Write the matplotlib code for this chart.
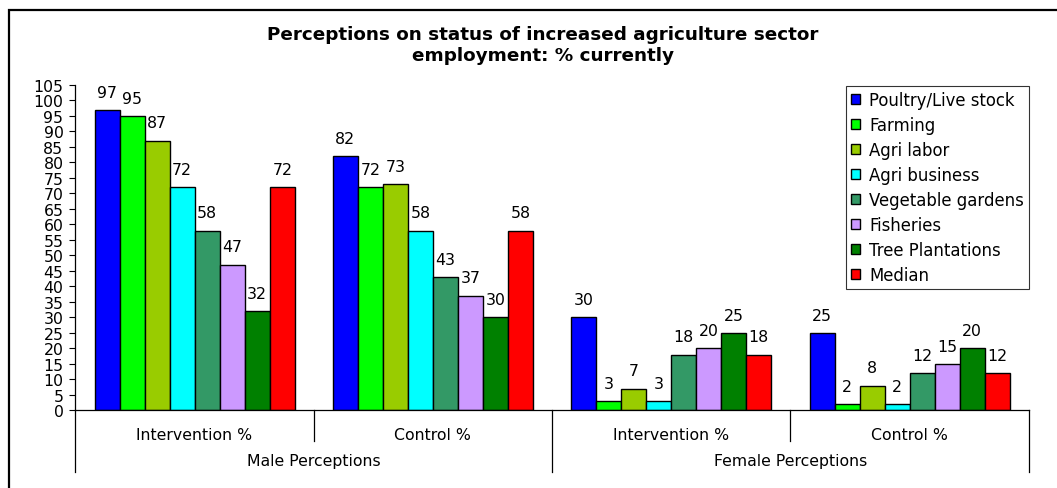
import matplotlib
matplotlib.use("Agg")
import matplotlib.pyplot as plt
from matplotlib.patches import Rectangle
from matplotlib.transforms import blended_transform_factory

# ---- data ----
series = ["Poultry/Live stock", "Farming", "Agri labor", "Agri business",
          "Vegetable gardens", "Fisheries", "Tree Plantations", "Median"]
colors = ["#0000FF", "#00FF00", "#99CC00", "#00FFFF",
          "#339966", "#CC99FF", "#008000", "#FF0000"]
male_intervention = [97, 95, 87, 72, 58, 47, 32, 72]
male_control = [82, 72, 73, 58, 43, 37, 30, 58]
female_intervention = [30, 3, 7, 3, 18, 20, 25, 18]
female_control = [25, 2, 8, 2, 12, 15, 20, 12]
groups = [male_intervention, male_control, female_intervention, female_control]
group_labels = ["Intervention %", "Control %", "Intervention %", "Control %"]
top_labels = ["Male Perceptions", "Female Perceptions"]
title = "Perceptions on status of increased agriculture sector\nemployment: % currently"

W, H = 1057, 489
fig = plt.figure(figsize=(W / 100, H / 100), dpi=100)
plt.rcParams['font.family'] = ['DejaVu Sans']

ax_l, ax_r = 75.3 / W, 1028.5 / W
ax_b, ax_t = 1 - 411.3 / H, 1 - 86 / H
ax = fig.add_axes([ax_l, ax_b, ax_r - ax_l, ax_t - ax_b])

fs = 11.3
margin = 0.081
bw = 0.105
for i, (name, col) in enumerate(zip(series, colors)):
    xs = [g + margin + bw * (i + 0.5) for g in range(len(groups))]
    vals = [grp[i] for grp in groups]
    ax.bar(xs, vals, width=bw, color=col, edgecolor="black", linewidth=1.0, label=name)
    for x, v in zip(xs, vals):
        ax.annotate(str(v), (x, v), xytext=(0, 12.8), textcoords="offset points",
                    ha="center", va="center", fontsize=fs)

ax.set_xlim(0, 4)
ax.set_ylim(0, 105)
ax.set_yticks(range(0, 106, 5))
ax.tick_params(axis="y", length=4.5, width=0.8, pad=4, labelsize=fs)
ax.spines["top"].set_visible(False)
ax.spines["right"].set_visible(False)
ax.spines["left"].set_linewidth(0.9)
ax.spines["bottom"].set_linewidth(0.9)

ax.set_xticks([g + 0.5 for g in range(4)])
ax.set_xticklabels(group_labels, fontsize=fs)
ax.tick_params(axis="x", length=0, pad=12)

trans = blended_transform_factory(ax.transData, ax.transAxes)
axh = 411.3 - 86
short = -(442 - 411.3) / axh
long_ = -(473 - 411.3) / axh
for xb in range(5):
    y1 = long_ if xb % 2 == 0 else short
    ax.plot([xb, xb], [0, y1], color="black", lw=0.9, transform=trans, clip_on=False)
for k, lab in enumerate(top_labels):
    ax.text(2 * k + 1, -(462 - 411.3) / axh, lab, transform=trans, ha="center",
            va="center", fontsize=fs)

fig.text(543 / W, 1 - 45.5 / H, title, ha="center", va="center", fontsize=13.2,
         fontweight="bold", linespacing=1.25)

leg = fig.legend(loc="upper left", bbox_to_anchor=(846 / W, 1 - 87 / H),
                 fontsize=11.9, frameon=True, fancybox=False, shadow=False,
                 handlelength=0.55, handleheight=0.55, handletextpad=0.55,
                 labelspacing=0.42, borderpad=0.3, borderaxespad=0)
leg.get_frame().set_edgecolor("black")
leg.get_frame().set_linewidth(0.8)

fig.add_artist(Rectangle((9 / W, -0.1), 1.2, 1.1 - 11 / H, transform=fig.transFigure,
                         fill=False, edgecolor="black", linewidth=1.6, clip_on=False))

fig.savefig("out.png", dpi=100)
